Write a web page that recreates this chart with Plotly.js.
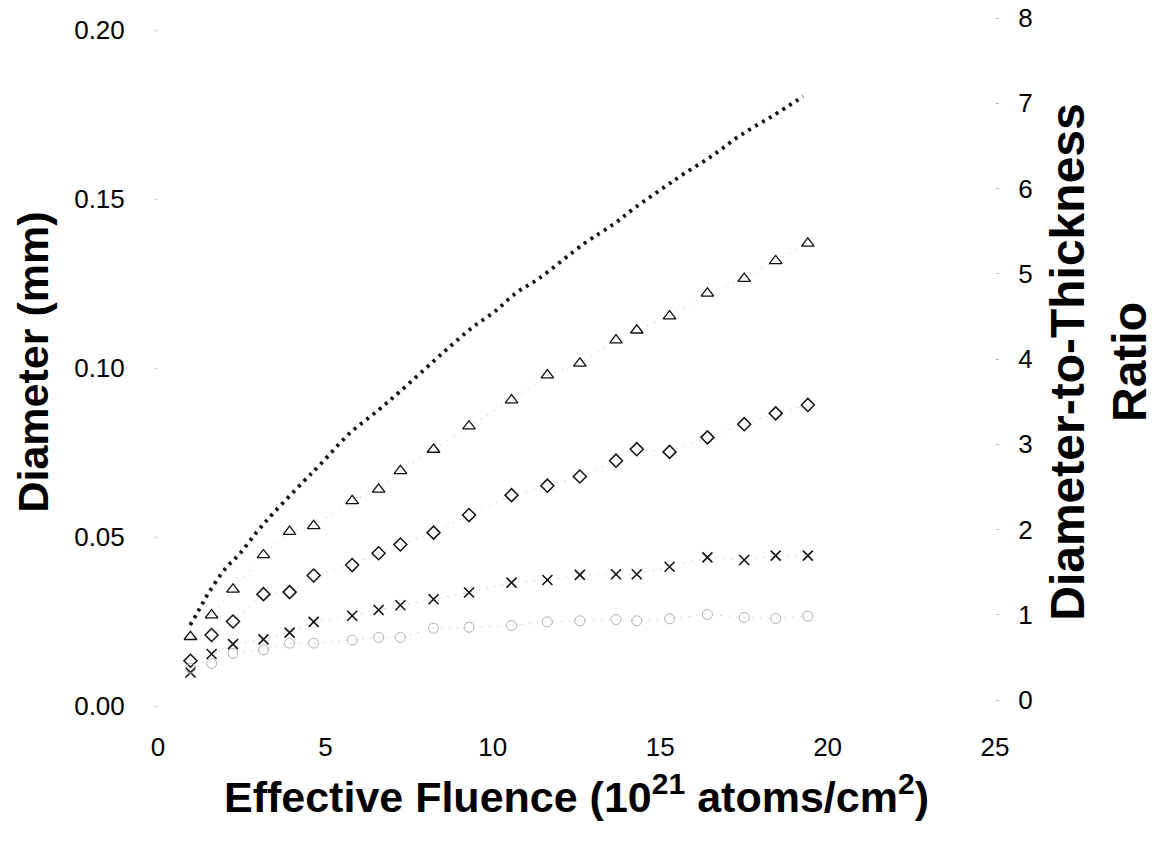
<!DOCTYPE html>
<html>
<head>
<meta charset="utf-8">
<script src="https://cdn.plot.ly/plotly-3.0.1.min.js"></script>
<style>html,body{margin:0;padding:0;background:#fff;}#chart{width:1156px;height:846px;}</style>
</head>
<body>
<div id="chart"></div>
<script>
// Effective fluence (10^21 atoms/cm^2) shared by the measured series
const fluence = [0.97, 1.60, 2.24, 3.15, 3.93, 4.65, 5.80, 6.59, 7.24, 8.23, 9.29, 10.56, 11.63, 12.60, 13.68, 14.30, 15.28, 16.41, 17.51, 18.45, 19.41];

// Diameter (mm) series
const diamTriangle = [0.0205, 0.0269, 0.0345, 0.0447, 0.0516, 0.0533, 0.0607, 0.0641, 0.0696, 0.0759, 0.0828, 0.0905, 0.0979, 0.1014, 0.1083, 0.1112, 0.1154, 0.1221, 0.1265, 0.1317, 0.1369];
const diamDiamond  = [0.0134, 0.0210, 0.0250, 0.0331, 0.0337, 0.0386, 0.0417, 0.0452, 0.0478, 0.0513, 0.0565, 0.0624, 0.0652, 0.0679, 0.0726, 0.0760, 0.0752, 0.0795, 0.0834, 0.0866, 0.0891];
const diamCross    = [0.0099, 0.0154, 0.0183, 0.0197, 0.0217, 0.0249, 0.0267, 0.0284, 0.0298, 0.0316, 0.0336, 0.0365, 0.0373, 0.0388, 0.0390, 0.0390, 0.0412, 0.0440, 0.0432, 0.0445, 0.0445];
const diamCircle   = [0.0112, 0.0126, 0.0156, 0.0166, 0.0186, 0.0186, 0.0195, 0.0203, 0.0203, 0.0230, 0.0233, 0.0238, 0.0249, 0.0252, 0.0256, 0.0252, 0.0258, 0.0271, 0.0262, 0.0259, 0.0266];

// Diameter-to-thickness ratio curve
const ratioFluence = [0.96, 1.2, 1.50, 2.03, 2.45, 2.95, 3.44, 4.34, 4.84, 5.73, 6.58, 7.23, 8.22, 8.82, 9.42, 10.07, 10.71, 11.36, 12.75, 13.6, 14.23, 15.14, 15.66, 16.54, 17.38, 18.35, 19.27];
const ratioValues  = [0.88, 1.04, 1.25, 1.55, 1.72, 1.97, 2.19, 2.56, 2.76, 3.13, 3.40, 3.62, 3.97, 4.18, 4.38, 4.56, 4.78, 4.94, 5.36, 5.58, 5.77, 6.02, 6.16, 6.38, 6.62, 6.85, 7.08];

// Tick labels
const xTicks = [0, 5, 10, 15, 20, 25];
const yTicks = [0, 0.05, 0.10, 0.15, 0.20];
const y2Ticks = [0, 1, 2, 3, 4, 5, 6, 7, 8];

const FONT = 'Liberation Sans, Arial, Helvetica, sans-serif';
const connector = {color: '#b8b8b8', width: 1, dash: '1px,7px'};

const traces = [
  {x: ratioFluence, y: ratioValues, yaxis: 'y2', mode: 'lines', name: 'Diameter-to-Thickness Ratio',
   line: {color: '#111', width: 3.8, dash: '3px,5px', shape: 'spline'}},
  {x: fluence, y: diamTriangle, mode: 'lines+markers', name: 'triangle', line: connector,
   marker: {symbol: 'triangle-up-open', size: 11, color: '#111', line: {width: 1.3}}},
  {x: fluence, y: diamDiamond, mode: 'lines+markers', name: 'diamond', line: connector,
   marker: {symbol: 'diamond-open', size: 10, color: '#111', line: {width: 1.5}}},
  {x: fluence, y: diamCross, mode: 'lines+markers', name: 'cross', line: connector,
   marker: {symbol: 'x-thin-open', size: 10, color: '#111', line: {width: 1.6}}},
  {x: fluence, y: diamCircle, mode: 'lines+markers', name: 'circle', line: connector,
   marker: {symbol: 'circle-open', size: 10, color: '#b0b0b0', line: {width: 1}}}
];

const layout = {
  width: 1156, height: 846,
  margin: {l: 158, r: 161, t: 18, b: 140, pad: 0},
  paper_bgcolor: '#fff', plot_bgcolor: '#fff',
  showlegend: false,
  font: {family: FONT, color: '#000'},
  xaxis: {
    range: [0, 25], tickvals: xTicks, ticktext: xTicks.map(String),
    showline: false, showgrid: false, zeroline: false,
    ticks: '', ticklabelstandoff: 23,
    tickfont: {size: 26, family: FONT, color: '#000'},
    title: {text: 'Effective Fluence (10<sup>21</sup> atoms/cm<sup>2</sup>)',
            font: {size: 43, family: FONT, weight: 'bold', color: '#000'}, standoff: 20}
  },
  yaxis: {
    range: [0, 0.2036], tickvals: yTicks, ticktext: yTicks.map(v => v.toFixed(2)),
    showline: false, showgrid: false, zeroline: false,
    ticks: 'outside', ticklen: 3, tickcolor: '#cccccc', ticklabelstandoff: 24,
    tickfont: {size: 26, family: FONT, color: '#000'},
    title: {text: 'Diameter (mm)', font: {size: 43, family: FONT, weight: 'bold', color: '#000'}, standoff: 12}
  },
  yaxis2: {
    overlaying: 'y', side: 'right',
    range: [-0.07, 8], tickvals: y2Ticks, ticktext: y2Ticks.map(String),
    showline: false, showgrid: false, zeroline: false,
    ticks: 'outside', ticklen: 3, tickcolor: '#bbbbbb', ticklabelstandoff: 14,
    tickfont: {size: 26, family: FONT, color: '#000'},
    title: {text: 'Diameter-to-Thickness<br>Ratio', font: {size: 48, family: FONT, weight: 'bold', color: '#000'}, standoff: 18}
  }
};

Plotly.newPlot('chart', traces, layout, {displayModeBar: false, staticPlot: true});
</script>
</body>
</html>
